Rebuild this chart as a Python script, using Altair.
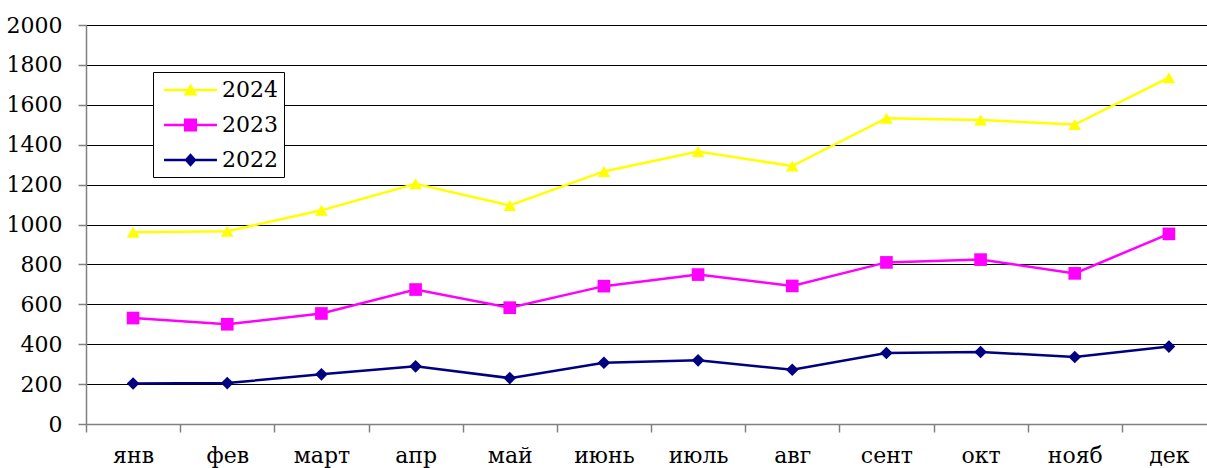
import altair as alt
import pandas as pd

months = ["янв", "фев", "март", "апр", "май", "июнь", "июль", "авг", "сент", "окт", "нояб", "дек"]
years = ["2024", "2023", "2022"]
v2024 = [961, 966, 1071, 1204, 1095, 1266, 1366, 1293, 1533, 1524, 1501, 1736]
v2023 = [531, 500, 554, 674, 583, 691, 749, 692, 810, 824, 755, 953]
v2022 = [203, 205, 249, 289, 230, 307, 319, 272, 356, 361, 336, 388]
y_ticks = [0, 200, 400, 600, 800, 1000, 1200, 1400, 1600, 1800, 2000]

colors = ["#FFFF00", "#FF00FF", "#000080"]
shapes = ["triangle-up", "square", "diamond"]

# legend symbols: line segment with marker in the middle (unit coords)
bar = "M-0.58,-0.1 L3.83,-0.1 L3.83,0.1 L-0.58,0.1 Z "
legend_paths = [
    bar + "M1.625,-0.55 L2.2,0.45 L1.05,0.45 Z",
    bar + "M1.08,-0.54 L2.17,-0.54 L2.17,0.54 L1.08,0.54 Z",
    bar + "M1.625,-0.56 L2.13,0 L1.625,0.56 L1.12,0 Z",
]

rows = []
for yr, vals in zip(years, [v2024, v2023, v2022]):
    for m, v in zip(months, vals):
        rows.append({"month": m, "year": yr, "value": v})
df = pd.DataFrame(rows)

FONT = "DejaVu Serif"
FS = 22

x_enc = alt.X(
    "month:N",
    sort=months,
    scale=alt.Scale(type="band", paddingInner=0, paddingOuter=0, range=[0, 1130]),
    bandPosition=0.5,
    axis=alt.Axis(
        title=None, labelAngle=0, tickBand="extent", grid=False,
        domainColor="#808080", domainWidth=1.5, tickColor="#808080", tickWidth=1.5,
        tickSize=8, labelPadding=13, labelFontSize=FS, labelFont=FONT,
        labelColor="black", labelBaseline="top",
    ),
)
y_enc = alt.Y(
    "value:Q",
    scale=alt.Scale(domain=[0, 2000], nice=False),
    axis=alt.Axis(
        title=None, values=y_ticks, format="d", grid=True, gridColor="#000000", gridWidth=1,
        domainColor="#808080", domainWidth=1.5, tickColor="#808080", tickWidth=1.5,
        tickSize=8, labelPadding=16, labelFontSize=FS, labelFont=FONT,
        labelColor="black",
    ),
)
color_scale = alt.Scale(domain=years, range=colors)

lines = alt.Chart(df).mark_line(strokeWidth=2.5).encode(
    x=x_enc, y=y_enc,
    color=alt.Color("year:N", scale=color_scale, legend=None),
)

points = alt.Chart(df).mark_point(filled=True, size=160, opacity=1).encode(
    x=x_enc, y=y_enc,
    color=alt.Color("year:N", scale=color_scale, legend=None),
    shape=alt.Shape("year:N", scale=alt.Scale(domain=years, range=shapes), legend=None),
)

leg = dict(
    orient="none", legendX=67, legendY=47, padding=6, strokeColor="black",
    fillColor="white", rowPadding=12, labelOffset=39, labelFont=FONT,
    labelFontSize=FS, labelColor="black", title=None, symbolStrokeWidth=0,
    symbolOpacity=1, symbolSize=576, cornerRadius=0,
)

legend_layer = alt.Chart(df).mark_point(filled=True, opacity=0).encode(
    x=x_enc, y=y_enc,
    color=alt.Color("year:N", scale=color_scale, legend=alt.Legend(**leg)),
    shape=alt.Shape("year:N", scale=alt.Scale(domain=years, range=legend_paths),
                    legend=alt.Legend(**leg)),
)

chart = alt.layer(lines, points, legend_layer).resolve_scale(
    color="independent", shape="independent"
).properties(
    width=1121, height=399,
    autosize=alt.AutoSizeParams(type="none"),
    padding={"left": 86, "top": 25, "right": 0, "bottom": 44},
    background="white",
).configure(
    font=FONT
).configure_view(stroke=None)

chart.save("out.html", embed_options={"renderer": "svg", "actions": False})
